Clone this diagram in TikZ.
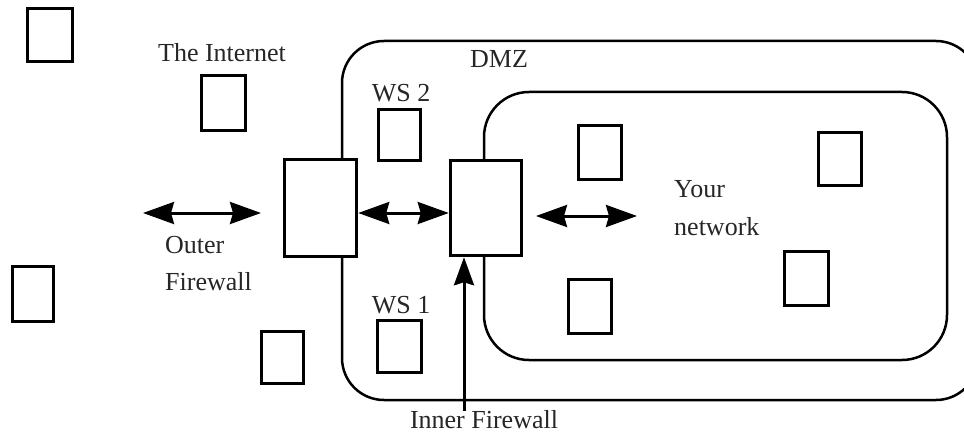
\documentclass[tikz,border=0pt]{standalone}
\usepackage{fontspec}
\setmainfont{Liberation Serif}
\usetikzlibrary{arrows.meta}
\begin{document}
\begin{tikzpicture}[x=1pt,y=-1pt,
  box/.style={draw=black,fill=white,line width=3pt,inner sep=0pt,minimum width=#1},
  box/.default=43pt,
  zone/.style={draw=black,line width=2.5pt},
  arr/.style={line width=3pt,{Stealth[length=31pt,width=22pt,inset=3pt]}-{Stealth[length=31pt,width=22pt,inset=3pt]}},
  uparr/.style={line width=3pt,-{Stealth[length=28pt,width=20pt,inset=3pt]}},
  lbl/.style={font=\fontsize{26}{30}\selectfont,inner sep=0pt,text=black!85}]
\useasboundingbox (0,0) rectangle (964,433);
% zones
\draw[zone,rounded corners=42pt] (342,41) rectangle (978,400);
\draw[zone,rounded corners=45pt] (484,92) rectangle (947,360);
% boxes
\node[box=45pt,minimum height=53pt] (b1) at (50,35) {};
\node[box=44pt,minimum height=55pt] (inet) at (223.5,103) {};
\node[box=41pt,minimum height=55pt] (lbox) at (33,294) {};
\node[box=42pt,minimum height=52pt,line width=2.5pt] (bbox) at (282.5,357.5) {};
\node[box=42pt,minimum height=51pt,line width=2.5pt] (ws2) at (399.5,135) {};
\node[box=44pt,minimum height=52pt] (ws1) at (399.5,346.5) {};
\node[box=72pt,minimum height=97pt,line width=3.5pt] (ofw) at (320.5,208) {};
\node[box=71pt,minimum height=95pt,line width=3.5pt] (ifw) at (486,208) {};
\node[box=43pt,minimum height=54pt,line width=2.5pt] (na) at (600,152.5) {};
\node[box=43pt,minimum height=53pt,line width=3.5pt] (nb) at (840,159) {};
\node[box=43pt,minimum height=54pt,line width=3.5pt] (nc) at (590,306.5) {};
\node[box=44pt,minimum height=54pt] (nd) at (806.5,278.5) {};
% labels
\node[lbl,anchor=base] (tinet) at (222,62) {The Internet};
\node[lbl,anchor=base] (tdmz) at (499,68) {DMZ};
\node[lbl,anchor=base] (tws2) at (401,102) {WS 2};
\node[lbl,anchor=base] (tws1) at (401,313) {WS 1};
\node[lbl,anchor=base west] (touter) at (165,253) {Outer};
\node[lbl,anchor=base west] (tofw) at (165,290) {Firewall};
\node[lbl,anchor=base west] (tyour) at (674,197) {Your};
\node[lbl,anchor=base west] (tnet) at (674,235) {network};
\node[lbl,anchor=base] (tifw) at (484,428) {Inner Firewall};
% connectors
\coordinate (a1s) at (143,213);
\coordinate (a1e) at (261,213);
\coordinate (y213) at (0,213);
\coordinate (a3s) at (536,216);
\coordinate (a3e) at (637,216);
\coordinate (a4s) at (464,411);
\draw[arr] (a1s) -- (a1e);
\draw[arr] (ofw.east |- y213) -- (ifw.west |- y213);
\draw[arr] (a3s) -- (a3e);
\draw[uparr] (a4s) -- (ifw.south -| a4s);
\end{tikzpicture}
\end{document}
